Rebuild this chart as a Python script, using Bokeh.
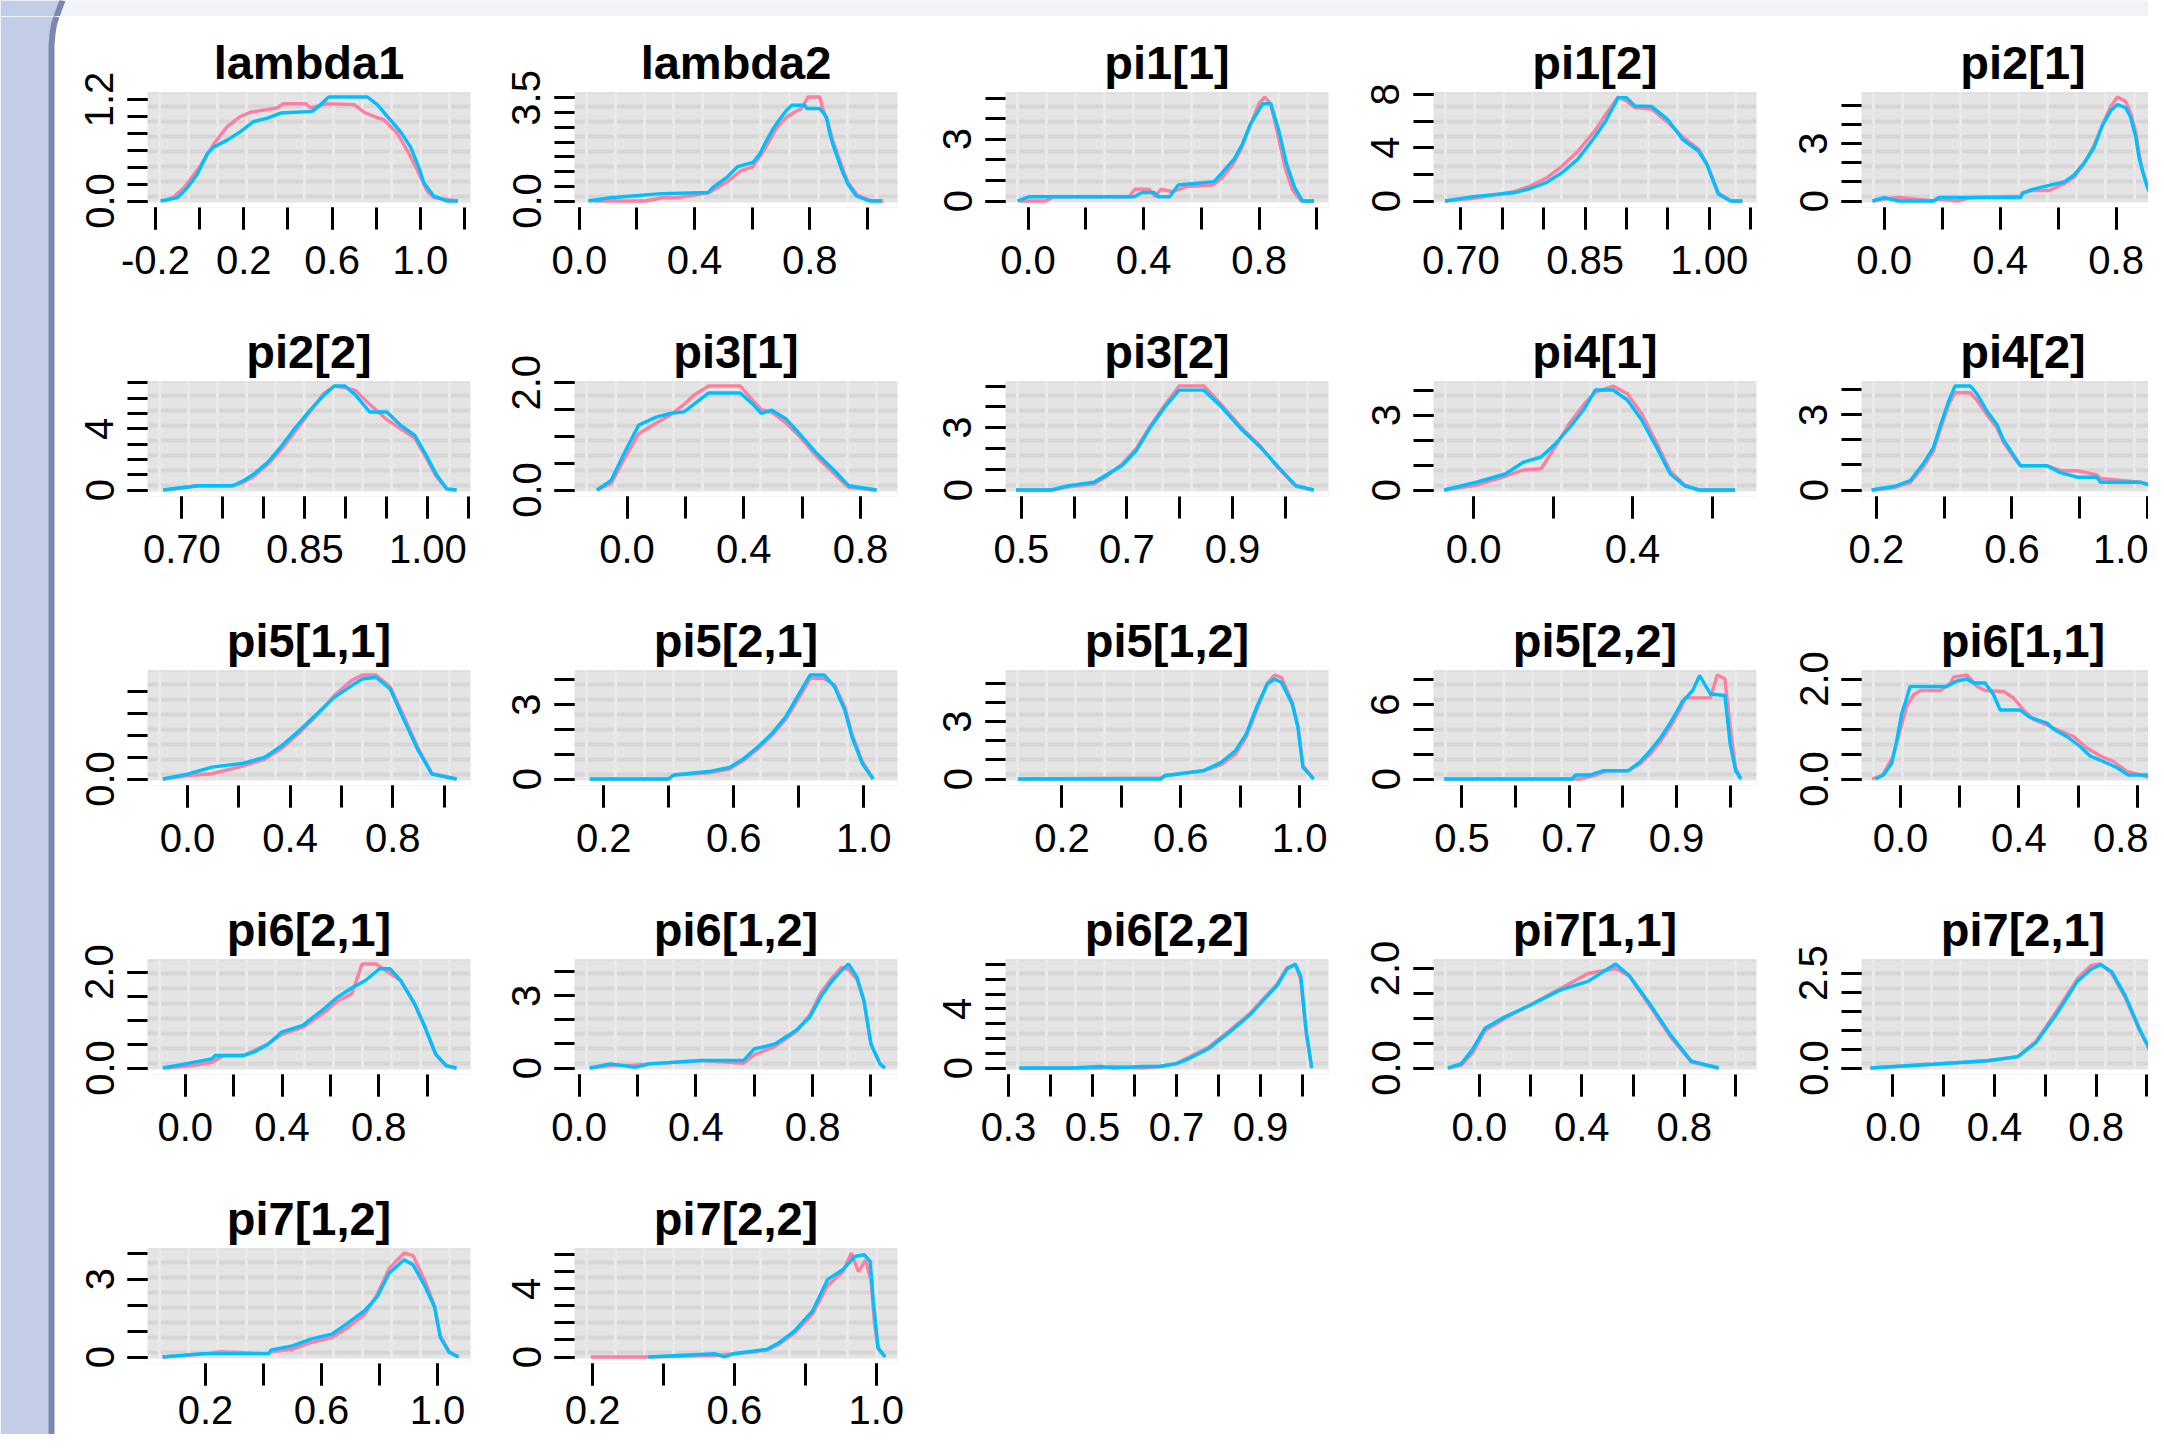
import math
from bokeh.plotting import figure
from bokeh.models import Range1d, FixedTicker, BoxAnnotation
from bokeh.layouts import column, row
from bokeh.embed import file_html
from bokeh.resources import INLINE

# ------------------------------------------------------------------ data
# lambda1
lambda1_xb = [-0.177, -0.10, -0.055, -0.01, 0.035, 0.065, 0.125, 0.185, 0.245, 0.307, 0.367, 0.51, 0.548, 0.585, 0.76, 0.805, 0.85, 0.91, 0.955, 0.993, 1.015, 1.06, 1.12, 1.17]
lambda1_yb = [0, 0.04, 0.16, 0.32, 0.56, 0.64, 0.72, 0.82, 0.94, 0.98, 1.04, 1.06, 1.14, 1.23, 1.23, 1.14, 1.0, 0.82, 0.64, 0.40, 0.22, 0.06, 0.0, 0.0]
lambda1_xa = [-0.16, -0.12, -0.07, 0.005, 0.065, 0.125, 0.185, 0.23, 0.35, 0.38, 0.48, 0.503, 0.57, 0.70, 0.745, 0.79, 0.835, 0.896, 0.94, 0.98, 1.03, 1.06, 1.17]
lambda1_ya = [0, 0.04, 0.16, 0.42, 0.68, 0.88, 1.0, 1.05, 1.10, 1.15, 1.15, 1.10, 1.15, 1.14, 1.05, 1.0, 0.96, 0.80, 0.60, 0.40, 0.12, 0.04, 0.0]
lambda1_xlim = (-0.236, 1.227)
lambda1_xticks = [-0.2, 0.0, 0.2, 0.4, 0.6, 0.8, 1.0, 1.2]
lambda1_xlabels = ["-0.2", "", "0.2", "", "0.6", "", "1.0", ""]
lambda1_yticks = [0.0, 0.2, 0.4, 0.6, 0.8, 1.0, 1.2]
lambda1_ylabels = ["0.0", "", "", "", "", "", "1.2"]

# lambda2
lambda2_xb = [0.031, 0.107, 0.286, 0.448, 0.464, 0.512, 0.55, 0.603, 0.627, 0.65, 0.673, 0.697, 0.72, 0.738, 0.783, 0.79, 0.835, 0.858, 0.87, 0.88, 0.898, 0.915, 0.933, 0.962, 1.008, 1.05]
lambda2_yb = [0, 0.11, 0.25, 0.29, 0.46, 0.80, 1.17, 1.31, 1.60, 2.05, 2.45, 2.79, 3.08, 3.25, 3.25, 3.14, 3.14, 2.85, 2.28, 1.94, 1.43, 0.97, 0.57, 0.17, 0.0, 0.0]
lambda2_xa = [0.05, 0.14, 0.23, 0.286, 0.34, 0.45, 0.47, 0.52, 0.56, 0.60, 0.63, 0.655, 0.68, 0.70, 0.72, 0.748, 0.772, 0.794, 0.835, 0.847, 0.865, 0.88, 0.90, 0.918, 0.935, 0.965, 1.01, 1.055]
lambda2_ya = [0.0, 0.0, 0.0, 0.11, 0.11, 0.29, 0.40, 0.70, 1.02, 1.15, 1.55, 1.95, 2.40, 2.65, 2.85, 3.02, 3.14, 3.53, 3.53, 3.08, 2.62, 2.05, 1.50, 1.0, 0.6, 0.2, 0.02, 0.0]
lambda2_xlim = (-0.017, 1.105)
lambda2_xticks = [0.0, 0.2, 0.4, 0.6, 0.8, 1.0]
lambda2_xlabels = ["0.0", "", "0.4", "", "0.8", ""]
lambda2_yticks = [0.0, 0.5, 1.0, 1.5, 2.0, 2.5, 3.0, 3.5]
lambda2_ylabels = ["0.0", "", "", "", "", "", "", "3.5"]

# pi1[1]
pi1_1_xb = [-0.036, 0.005, 0.367, 0.394, 0.436, 0.45, 0.49, 0.52, 0.644, 0.672, 0.714, 0.742, 0.77, 0.812, 0.84, 0.868, 0.895, 0.923, 0.95, 0.99]
pi1_1_yb = [0, 0.21, 0.21, 0.41, 0.41, 0.21, 0.21, 0.78, 0.94, 1.38, 2.04, 2.77, 3.75, 4.72, 4.72, 3.42, 1.79, 0.65, 0.0, 0.0]
pi1_1_xa = [-0.03, 0.02, 0.06, 0.09, 0.12, 0.35, 0.37, 0.42, 0.44, 0.46, 0.50, 0.55, 0.64, 0.67, 0.71, 0.74, 0.77, 0.80, 0.82, 0.84, 0.865, 0.89, 0.915, 0.945, 0.99]
pi1_1_ya = [0, 0, 0.0, 0.21, 0.21, 0.21, 0.57, 0.57, 0.21, 0.57, 0.45, 0.70, 0.78, 1.10, 1.80, 2.60, 3.70, 4.75, 5.05, 4.70, 3.20, 1.60, 0.55, 0.0, 0.0]
pi1_1_xlim = (-0.078, 1.04)
pi1_1_xticks = [0.0, 0.2, 0.4, 0.6, 0.8, 1.0]
pi1_1_xlabels = ["0.0", "", "0.4", "", "0.8", ""]
pi1_1_yticks = [0, 1, 2, 3, 4, 5]
pi1_1_ylabels = ["0", "", "", "3", "", ""]

# pi1[2]
pi1_2_x = [0.681, 0.715, 0.764, 0.783, 0.803, 0.822, 0.841, 0.861, 0.875, 0.89, 0.90, 0.91, 0.93, 0.95, 0.968, 0.987, 0.997, 1.011, 1.026, 1.04]
pi1_2_yb = [0, 0.33, 0.62, 0.92, 1.38, 2.12, 3.12, 4.75, 6.0, 7.75, 7.75, 7.12, 7.1, 6.1, 4.6, 3.75, 2.75, 0.5, 0.0, 0.0]
pi1_2_ya = [0, 0.2, 0.7, 1.1, 1.7, 2.6, 3.7, 5.2, 6.5, 7.8, 7.5, 7.0, 6.9, 5.9, 4.8, 3.9, 2.8, 0.6, 0.0, 0.0]
pi1_2_xlim = (0.667, 1.057)
pi1_2_xticks = [0.70, 0.75, 0.80, 0.85, 0.90, 0.95, 1.00, 1.05]
pi1_2_xlabels = ["0.70", "", "", "0.85", "", "", "1.00", ""]
pi1_2_yticks = [0, 2, 4, 6, 8]
pi1_2_ylabels = ["0", "", "4", "", "8"]

# pi2[1]
pi2_1_x = [-0.04, 0.0, 0.05, 0.17, 0.19, 0.253, 0.30, 0.471, 0.477, 0.512, 0.569, 0.621, 0.655, 0.69, 0.724, 0.753, 0.782, 0.805, 0.833, 0.85, 0.868, 0.879, 0.891, 0.908, 0.925, 0.948, 0.99]
pi2_1_yb = [0, 0.18, 0.0, 0.0, 0.18, 0.18, 0.18, 0.18, 0.39, 0.61, 0.82, 1.0, 1.35, 2.0, 2.8, 3.95, 4.74, 5.05, 4.88, 4.39, 3.33, 2.28, 1.58, 0.70, 0.18, 0.0, 0.0]
pi2_1_ya = [0, 0.1, 0.18, 0.0, 0.1, 0.0, 0.18, 0.25, 0.45, 0.55, 0.55, 0.90, 1.25, 1.95, 2.9, 4.0, 4.95, 5.44, 5.2, 4.6, 3.6, 2.5, 1.6, 0.8, 0.25, 0.0, 0.0]
pi2_1_xlim = (-0.078, 1.036)
pi2_1_xticks = [0.0, 0.2, 0.4, 0.6, 0.8, 1.0]
pi2_1_xlabels = ["0.0", "", "0.4", "", "0.8", ""]
pi2_1_yticks = [0, 1, 2, 3, 4, 5]
pi2_1_ylabels = ["0", "", "", "3", "", ""]

# pi2[2]
pi2_2_x = [0.677, 0.72, 0.762, 0.775, 0.788, 0.805, 0.822, 0.839, 0.856, 0.873, 0.886, 0.899, 0.912, 0.929, 0.95, 0.967, 0.984, 0.997, 1.01, 1.023, 1.035]
pi2_2_yb = [0, 0.28, 0.28, 0.61, 1.05, 1.82, 2.91, 4.11, 5.2, 6.19, 6.8, 6.8, 6.19, 5.1, 5.1, 4.22, 3.57, 2.36, 1.05, 0.07, 0.0]
pi2_2_ya = [0, 0.28, 0.28, 0.5, 0.9, 1.7, 2.7, 3.9, 5.1, 6.3, 6.8, 6.7, 6.5, 5.6, 4.6, 4.0, 3.4, 2.2, 0.9, 0.07, 0.0]
pi2_2_xlim = (0.658, 1.052)
pi2_2_xticks = [0.70, 0.75, 0.80, 0.85, 0.90, 0.95, 1.00, 1.05]
pi2_2_xlabels = ["0.70", "", "", "0.85", "", "", "1.00", ""]
pi2_2_yticks = [0, 1, 2, 3, 4, 5, 6, 7]
pi2_2_ylabels = ["0", "", "", "", "4", "", "", ""]

# pi3[1]
pi3_1_x = [-0.103, -0.055, -0.0075, 0.04, 0.10, 0.148, 0.196, 0.232, 0.28, 0.388, 0.435, 0.46, 0.496, 0.544, 0.591, 0.651, 0.711, 0.759, 0.855]
pi3_1_yb = [0, 0.175, 0.71, 1.21, 1.36, 1.43, 1.46, 1.61, 1.81, 1.81, 1.58, 1.43, 1.49, 1.33, 1.05, 0.675, 0.36, 0.08, 0.0]
pi3_1_ya = [0, 0.12, 0.6, 1.05, 1.25, 1.40, 1.60, 1.78, 1.94, 1.94, 1.65, 1.50, 1.45, 1.25, 1.0, 0.62, 0.3, 0.05, 0.0]
pi3_1_xlim = (-0.18, 0.927)
pi3_1_xticks = [0.0, 0.2, 0.4, 0.6, 0.8]
pi3_1_xlabels = ["0.0", "", "0.4", "", "0.8"]
pi3_1_yticks = [0.0, 0.5, 1.0, 1.5, 2.0]
pi3_1_ylabels = ["0.0", "", "", "", "2.0"]

# pi3[2]
pi3_2_x = [0.49, 0.557, 0.59, 0.638, 0.664, 0.691, 0.718, 0.745, 0.772, 0.799, 0.846, 0.879, 0.919, 0.953, 0.987, 1.02, 1.054]
pi3_2_yb = [0, 0.0, 0.21, 0.37, 0.77, 1.18, 1.9, 3.03, 4.0, 4.8, 4.8, 4.0, 2.87, 2.06, 1.1, 0.21, 0.0]
pi3_2_ya = [0, 0.0, 0.15, 0.3, 0.7, 1.25, 2.0, 3.1, 4.1, 5.0, 5.0, 4.1, 2.95, 2.1, 1.05, 0.18, 0.0]
pi3_2_xlim = (0.47, 1.082)
pi3_2_xticks = [0.5, 0.6, 0.7, 0.8, 0.9, 1.0]
pi3_2_xlabels = ["0.5", "", "0.7", "", "0.9", ""]
pi3_2_yticks = [0, 1, 2, 3, 4, 5]
pi3_2_ylabels = ["0", "", "", "3", "", ""]

# pi4[1]
pi4_1_x = [-0.074, 0.007, 0.08, 0.125, 0.17, 0.206, 0.243, 0.279, 0.306, 0.351, 0.387, 0.423, 0.46, 0.495, 0.531, 0.568, 0.658]
pi4_1_yb = [0, 0.31, 0.64, 1.11, 1.32, 1.85, 2.52, 3.26, 4.0, 4.0, 3.6, 2.8, 1.72, 0.64, 0.17, 0.0, 0.0]
pi4_1_ya = [0, 0.2, 0.55, 0.8, 0.85, 1.75, 2.7, 3.45, 3.9, 4.16, 3.85, 3.05, 1.9, 0.75, 0.2, 0.0, 0.0]
pi4_1_xlim = (-0.101, 0.712)
pi4_1_xticks = [0.0, 0.2, 0.4, 0.6]
pi4_1_xlabels = ["0.0", "", "0.4", ""]
pi4_1_yticks = [0, 1, 2, 3, 4]
pi4_1_ylabels = ["0", "", "", "3", ""]

# pi4[2]
pi4_2_x = [0.186, 0.255, 0.30, 0.34, 0.368, 0.388, 0.413, 0.432, 0.477, 0.496, 0.526, 0.555, 0.575, 0.605, 0.625, 0.703, 0.743, 0.792, 0.851, 0.861, 0.979, 1.018, 1.05]
pi4_2_yb = [0, 0.15, 0.38, 1.08, 1.69, 2.54, 3.54, 4.15, 4.15, 3.85, 3.15, 2.62, 2.0, 1.38, 0.97, 0.97, 0.69, 0.51, 0.51, 0.31, 0.31, 0.15, 0.08]
pi4_2_ya = [0, 0.1, 0.3, 0.95, 1.55, 2.4, 3.4, 3.88, 3.88, 3.6, 3.0, 2.5, 1.9, 1.3, 0.97, 0.97, 0.77, 0.77, 0.6, 0.46, 0.31, 0.15, 0.08]
pi4_2_xlim = (0.156, 1.109)
pi4_2_xticks = [0.2, 0.4, 0.6, 0.8, 1.0]
pi4_2_xlabels = ["0.2", "", "0.6", "", "1.0"]
pi4_2_yticks = [0, 1, 2, 3, 4]
pi4_2_ylabels = ["0", "", "", "3", ""]

# pi5[1,1]
pi5_11_x = [-0.096, 0.0, 0.095, 0.218, 0.30, 0.368, 0.435, 0.504, 0.572, 0.64, 0.681, 0.735, 0.79, 0.845, 0.899, 0.953, 1.049]
pi5_11_yb = [0, 0.11, 0.27, 0.36, 0.49, 0.76, 1.1, 1.48, 1.86, 2.13, 2.28, 2.32, 2.05, 1.33, 0.65, 0.11, 0.0]
pi5_11_ya = [0, 0.08, 0.12, 0.3, 0.45, 0.7, 1.05, 1.45, 1.9, 2.25, 2.37, 2.37, 2.1, 1.4, 0.7, 0.12, 0.0]
pi5_11_xlim = (-0.156, 1.103)
pi5_11_xticks = [0.0, 0.2, 0.4, 0.6, 0.8, 1.0]
pi5_11_xlabels = ["0.0", "", "0.4", "", "0.8", ""]
pi5_11_yticks = [0.0, 0.5, 1.0, 1.5, 2.0]
pi5_11_ylabels = ["0.0", "", "", "", ""]

# pi5[2,1]
pi5_21_x = [0.157, 0.40, 0.415, 0.523, 0.587, 0.63, 0.673, 0.717, 0.76, 0.802, 0.835, 0.878, 0.91, 0.942, 0.964, 0.996, 1.029]
pi5_21_yb = [0, 0, 0.16, 0.3, 0.47, 0.81, 1.28, 1.82, 2.5, 3.45, 4.19, 4.19, 3.72, 2.77, 1.69, 0.61, 0.0]
pi5_21_ya = [0, 0, 0.16, 0.25, 0.4, 0.75, 1.2, 1.75, 2.4, 3.3, 4.05, 4.05, 3.8, 2.9, 1.8, 0.7, 0.0]
pi5_21_xlim = (0.11, 1.104)
pi5_21_xticks = [0.2, 0.4, 0.6, 0.8, 1.0]
pi5_21_xlabels = ["0.2", "", "0.6", "", "1.0"]
pi5_21_yticks = [0, 1, 2, 3, 4]
pi5_21_ylabels = ["0", "", "", "3", ""]

# pi5[1,2]
pi5_12_x = [0.052, 0.533, 0.545, 0.677, 0.736, 0.784, 0.82, 0.855, 0.891, 0.915, 0.939, 0.975, 0.994, 1.011, 1.047]
pi5_12_yb = [0, 0, 0.17, 0.44, 0.87, 1.48, 2.35, 3.75, 4.97, 5.23, 5.05, 3.92, 2.7, 0.61, 0.0]
pi5_12_ya = [0, 0.05, 0.17, 0.44, 0.75, 1.3, 2.2, 3.6, 5.0, 5.44, 5.3, 4.0, 2.8, 0.7, 0.0]
pi5_12_xlim = (0.01, 1.097)
pi5_12_xticks = [0.2, 0.4, 0.6, 0.8, 1.0]
pi5_12_xlabels = ["0.2", "", "0.6", "", "1.0"]
pi5_12_yticks = [0, 1, 2, 3, 4, 5]
pi5_12_ylabels = ["0", "", "", "3", "", ""]

# pi5[2,2]
pi5_22_xb = [0.467, 0.705, 0.712, 0.738, 0.764, 0.81, 0.831, 0.851, 0.871, 0.891, 0.91, 0.93, 0.943, 0.963, 0.99, 1.0, 1.01, 1.02]
pi5_22_yb = [0, 0, 0.32, 0.32, 0.67, 0.67, 1.35, 2.29, 3.37, 4.72, 6.2, 7.14, 8.36, 6.87, 6.74, 2.83, 0.67, 0.0]
pi5_22_xa = [0.467, 0.70, 0.72, 0.75, 0.77, 0.81, 0.831, 0.851, 0.871, 0.891, 0.91, 0.916, 0.963, 0.976, 0.99, 1.0, 1.01, 1.02]
pi5_22_ya = [0, 0, 0.0, 0.32, 0.67, 0.67, 1.2, 2.0, 3.1, 4.4, 5.9, 6.55, 6.55, 8.4, 8.1, 4.2, 0.9, 0.0]
pi5_22_xlim = (0.447, 1.049)
pi5_22_xticks = [0.5, 0.6, 0.7, 0.8, 0.9, 1.0]
pi5_22_xlabels = ["0.5", "", "0.7", "", "0.9", ""]
pi5_22_yticks = [0, 2, 4, 6, 8]
pi5_22_ylabels = ["0", "", "", "6", ""]

# pi6[1,1]
pi6_11_xb = [-0.085, -0.058, -0.03, -0.013, 0.004, 0.021, 0.032, 0.156, 0.19, 0.224, 0.247, 0.286, 0.314, 0.337, 0.404, 0.438, 0.495, 0.517, 0.562, 0.607, 0.641, 0.686, 0.731, 0.77, 0.855, 0.891]
pi6_11_yb = [0, 0.08, 0.31, 0.77, 1.31, 1.62, 1.85, 1.85, 1.96, 2.0, 1.92, 1.92, 1.69, 1.38, 1.38, 1.23, 1.12, 1.0, 0.85, 0.65, 0.46, 0.35, 0.23, 0.08, 0.08, 0.0]
pi6_11_xa = [-0.096, -0.06, -0.025, 0.0, 0.021, 0.045, 0.068, 0.135, 0.169, 0.18, 0.224, 0.259, 0.286, 0.349, 0.382, 0.416, 0.45, 0.495, 0.54, 0.585, 0.63, 0.676, 0.72, 0.766, 0.811, 0.855]
pi6_11_ya = [0, 0.08, 0.46, 1.0, 1.46, 1.69, 1.77, 1.77, 1.92, 2.04, 2.08, 1.85, 1.77, 1.75, 1.62, 1.38, 1.19, 1.08, 0.96, 0.85, 0.62, 0.46, 0.35, 0.15, 0.08, 0.0]
pi6_11_xlim = (-0.132, 0.96)
pi6_11_xticks = [0.0, 0.2, 0.4, 0.6, 0.8]
pi6_11_xlabels = ["0.0", "", "0.4", "", "0.8"]
pi6_11_yticks = [0.0, 0.5, 1.0, 1.5, 2.0]
pi6_11_ylabels = ["0.0", "", "", "", "2.0"]

# pi6[2,1]
pi6_21_xb = [-0.093, -0.006, 0.11, 0.124, 0.24, 0.283, 0.341, 0.399, 0.486, 0.572, 0.63, 0.688, 0.746, 0.803, 0.847, 0.89, 0.948, 0.991, 1.035, 1.078, 1.121]
pi6_21_yb = [0, 0.08, 0.19, 0.26, 0.26, 0.33, 0.49, 0.75, 0.89, 1.23, 1.48, 1.67, 1.83, 2.07, 2.07, 1.83, 1.34, 0.85, 0.29, 0.05, 0.0]
pi6_21_xa = [-0.08, 0.03, 0.11, 0.16, 0.24, 0.283, 0.341, 0.399, 0.486, 0.572, 0.63, 0.688, 0.731, 0.789, 0.818, 0.89, 0.948, 0.991, 1.035, 1.078, 1.121]
pi6_21_ya = [0, 0.05, 0.12, 0.26, 0.26, 0.36, 0.5, 0.7, 0.85, 1.15, 1.4, 1.55, 2.17, 2.17, 2.07, 1.83, 1.34, 0.85, 0.29, 0.05, 0.0]
pi6_21_xlim = (-0.156, 1.179)
pi6_21_xticks = [0.0, 0.2, 0.4, 0.6, 0.8, 1.0]
pi6_21_xlabels = ["0.0", "", "0.4", "", "0.8", ""]
pi6_21_yticks = [0.0, 0.5, 1.0, 1.5, 2.0]
pi6_21_ylabels = ["0.0", "", "", "", "2.0"]

# pi6[1,2]
pi6_12_x = [0.036, 0.108, 0.192, 0.24, 0.42, 0.563, 0.60, 0.671, 0.743, 0.79, 0.827, 0.863, 0.899, 0.923, 0.952, 0.976, 1.0, 1.031, 1.048]
pi6_12_yb = [0, 0.17, 0.03, 0.17, 0.31, 0.31, 0.79, 1.0, 1.56, 2.11, 2.94, 3.57, 4.06, 4.33, 3.78, 2.8, 1.0, 0.17, 0.0]
pi6_12_ya = [0, 0.1, 0.12, 0.17, 0.31, 0.2, 0.55, 0.9, 1.5, 2.2, 3.1, 3.7, 4.19, 4.1, 3.7, 2.8, 1.0, 0.17, 0.0]
pi6_12_xlim = (-0.016, 1.091)
pi6_12_xticks = [0.0, 0.2, 0.4, 0.6, 0.8, 1.0]
pi6_12_xlabels = ["0.0", "", "0.4", "", "0.8", ""]
pi6_12_yticks = [0, 1, 2, 3, 4]
pi6_12_ylabels = ["0", "", "", "3", ""]

# pi6[2,2]
pi6_22_x = [0.326, 0.45, 0.52, 0.55, 0.62, 0.66, 0.70, 0.727, 0.776, 0.825, 0.875, 0.907, 0.94, 0.963, 0.983, 0.996, 1.009, 1.022]
pi6_22_yb = [0, 0, 0.1, 0.0, 0.1, 0.1, 0.3, 0.6, 1.3, 2.4, 3.6, 4.6, 5.6, 6.7, 7.05, 6.2, 2.5, 0.0]
pi6_22_ya = [0, 0, 0.0, 0.1, 0.0, 0.1, 0.3, 0.7, 1.4, 2.5, 3.7, 4.7, 5.7, 6.8, 7.0, 6.0, 2.3, 0.0]
pi6_22_xlim = (0.293, 1.062)
pi6_22_xticks = [0.3, 0.4, 0.5, 0.6, 0.7, 0.8, 0.9, 1.0]
pi6_22_xlabels = ["0.3", "", "0.5", "", "0.7", "", "0.9", ""]
pi6_22_yticks = [0, 1, 2, 3, 4, 5, 6, 7]
pi6_22_ylabels = ["0", "", "", "", "4", "", "", ""]

# pi7[1,1]
pi7_11_x = [-0.123, -0.07, -0.027, 0.022, 0.10, 0.21, 0.317, 0.424, 0.532, 0.585, 0.665, 0.747, 0.827, 0.934]
pi7_11_yb = [0, 0.09, 0.37, 0.8, 1.03, 1.29, 1.57, 1.74, 2.09, 1.86, 1.29, 0.66, 0.14, 0.0]
pi7_11_ya = [0, 0.06, 0.3, 0.75, 1.0, 1.3, 1.6, 1.9, 2.0, 1.85, 1.25, 0.62, 0.12, 0.0]
pi7_11_xlim = (-0.179, 1.082)
pi7_11_xticks = [0.0, 0.2, 0.4, 0.6, 0.8, 1.0]
pi7_11_xlabels = ["0.0", "", "0.4", "", "0.8", ""]
pi7_11_yticks = [0.0, 0.5, 1.0, 1.5, 2.0]
pi7_11_ylabels = ["0.0", "", "", "", "2.0"]

# pi7[2,1]
pi7_21_x = [-0.089, 0.155, 0.372, 0.492, 0.563, 0.644, 0.726, 0.78, 0.818, 0.861, 0.915, 0.97, 1.025, 1.068]
pi7_21_yb = [0, 0.1, 0.19, 0.3, 0.67, 1.42, 2.28, 2.6, 2.72, 2.54, 1.9, 1.04, 0.3, 0.04]
pi7_21_ya = [0, 0.1, 0.19, 0.3, 0.7, 1.5, 2.35, 2.7, 2.74, 2.5, 1.85, 1.0, 0.3, 0.04]
pi7_21_xlim = (-0.124, 1.148)
pi7_21_xticks = [0.0, 0.2, 0.4, 0.6, 0.8, 1.0]
pi7_21_xlabels = ["0.0", "", "0.4", "", "0.8", ""]
pi7_21_yticks = [0.0, 0.5, 1.0, 1.5, 2.0, 2.5]
pi7_21_ylabels = ["0.0", "", "", "", "", "2.5"]

# pi7[1,2]
pi7_12_x = [0.052, 0.188, 0.25, 0.417, 0.427, 0.50, 0.563, 0.636, 0.687, 0.75, 0.792, 0.833, 0.885, 0.916, 0.958, 0.99, 1.01, 1.041, 1.073]
pi7_12_yb = [0, 0.13, 0.13, 0.13, 0.27, 0.43, 0.69, 0.88, 1.27, 1.79, 2.31, 3.22, 3.74, 3.55, 2.7, 1.92, 0.75, 0.17, 0.0]
pi7_12_ya = [0, 0.1, 0.2, 0.13, 0.2, 0.3, 0.55, 0.75, 1.1, 1.65, 2.4, 3.4, 4.0, 3.9, 2.9, 1.95, 0.8, 0.2, 0.0]
pi7_12_xlim = (0.0, 1.114)
pi7_12_xticks = [0.2, 0.4, 0.6, 0.8, 1.0]
pi7_12_xlabels = ["0.2", "", "0.6", "", "1.0"]
pi7_12_yticks = [0, 1, 2, 3, 4]
pi7_12_ylabels = ["0", "", "", "3", ""]

# pi7[2,2]
pi7_22_xb = [0.357, 0.546, 0.572, 0.597, 0.692, 0.726, 0.769, 0.82, 0.863, 0.906, 0.94, 0.966, 0.983, 0.992, 1.005, 1.025]
pi7_22_yb = [0, 0.19, 0.0, 0.19, 0.45, 0.84, 1.52, 2.69, 4.54, 5.13, 5.9, 6.0, 5.61, 3.27, 0.55, 0.0]
pi7_22_xa = [0.195, 0.35, 0.55, 0.60, 0.692, 0.726, 0.769, 0.82, 0.863, 0.906, 0.93, 0.95, 0.97, 0.985, 0.995, 1.005, 1.025]
pi7_22_ya = [0, 0, 0.1, 0.19, 0.4, 0.75, 1.4, 2.5, 4.2, 5.0, 6.1, 5.0, 5.7, 4.5, 2.0, 0.5, 0.0]
pi7_22_xlim = (0.149, 1.06)
pi7_22_xticks = [0.2, 0.4, 0.6, 0.8, 1.0]
pi7_22_xlabels = ["0.2", "", "0.6", "", "1.0"]
pi7_22_yticks = [0, 1, 2, 3, 4, 5, 6]
pi7_22_ylabels = ["0", "", "", "", "4", "", ""]

# ------------------------------------------------------------------ style
PINK = "#ff7fa0"
BLUE = "#00bfff"
FONT = "Liberation Sans"
STRIP = "#c3cde8"
EDGE = "#7c89ae"
BAND = "#f2f3f8"
TITLE_PX = 47
# advance widths (em) of the bold title characters, to centre cut titles
BOLD_EM = {"p": 0.611, "i": 0.278, "[": 0.333, "]": 0.333, ",": 0.278,
           "l": 0.278, "a": 0.556, "m": 0.889, "b": 0.611, "d": 0.611}

PAGE_W, PAGE_H = 2148, 1434
BAND_H = 16
STRIP_W = 64
COL_W = [416, 429, 428, 429, 382]
COL_BL = [83, 94, 96, 96, 95]
FULL_FW = 323
ROW_H = 289
LAST_H = PAGE_H - BAND_H - 4 * ROW_H
TOP_B = 76
FRAME_H = 115   # 110 grey + 5 white gap above the ticks


def panel(title, xa, ya, xb, yb, xlim, xticks, xlabels, yticks, ylabels, col, last):
    W = COL_W[col]
    BL = COL_BL[col]
    H = LAST_H if last else ROW_H
    fw = min(FULL_FW, W - BL)
    BR = W - BL - fw
    M = max(max(ya), max(yb))
    k = 104.0 / M
    y0, y1 = -6.5 / k, M + 4.5 / k
    grey_bottom = -1.5 / k
    x0, x1 = xlim
    x1 = x0 + (x1 - x0) * fw / FULL_FW
    p = figure(width=W, height=H, x_range=Range1d(x0, x1), y_range=Range1d(y0, y1),
               output_backend="svg", toolbar_location=None, title=title,
               min_border_left=BL, min_border_right=BR, min_border_top=TOP_B,
               min_border_bottom=H - TOP_B - FRAME_H,
               background_fill_color="#e4e4e4", border_fill_color="white",
               outline_line_color=None)
    p.title.text_font = FONT
    p.title.text_font_size = "%dpx" % TITLE_PX
    p.title.text_font_style = "bold"
    p.title.text_color = "black"
    p.title.standoff = 7
    if fw < FULL_FW:
        # the panel is cut by the window edge: centre over the full-width panel
        tw = sum(BOLD_EM.get(ch, 0.556) for ch in title) * TITLE_PX
        p.title.align = "left"
        p.title.offset = (FULL_FW - tw) / 2.0
    else:
        p.title.align = "center"

    # background texture: dark horizontal bands, light vertical gaps
    ppx = (x1 - x0) / fw
    p.ygrid.ticker = FixedTicker(ticks=[grey_bottom + (6 + 15 * i) / k for i in range(8)])
    p.ygrid.grid_line_color = "#d6d6d6"
    p.ygrid.grid_line_width = 4
    p.xgrid.ticker = FixedTicker(ticks=[x0 + (12 + 29 * i) * ppx for i in range(12)])
    p.xgrid.grid_line_color = "#e9e9e9"
    p.xgrid.grid_line_width = 3
    xg, yg = p.xgrid[0], p.ygrid[0]
    others = [r for r in p.center if r is not xg and r is not yg]
    p.center = [yg, xg] + others
    p.add_layout(BoxAnnotation(top=grey_bottom, fill_color="white", fill_alpha=1.0,
                               line_color=None, level="underlay"))

    p.line(xa, ya, line_color=PINK, line_width=3.4)
    p.line(xb, yb, line_color=BLUE, line_width=3.4)

    xmaj = [t for t, l in zip(xticks, xlabels) if l]
    ymaj = [t for t, l in zip(yticks, ylabels) if l]
    p.xaxis.ticker = FixedTicker(ticks=xmaj, minor_ticks=xticks)
    p.xaxis.major_label_overrides = {t: l for t, l in zip(xticks, xlabels) if l}
    p.yaxis.ticker = FixedTicker(ticks=ymaj, minor_ticks=yticks)
    p.yaxis.major_label_overrides = {t: l for t, l in zip(yticks, ylabels) if l}
    for ax, tl in ((p.xaxis, 22), (p.yaxis, 20)):
        ax.axis_line_color = None
        ax.major_tick_in = 0
        ax.minor_tick_in = 0
        ax.major_tick_out = tl
        ax.minor_tick_out = tl
        ax.major_tick_line_width = 3
        ax.minor_tick_line_width = 3
        ax.major_tick_line_color = "black"
        ax.minor_tick_line_color = "black"
        ax.major_label_text_font = FONT
        ax.major_label_text_font_size = "40px"
        ax.major_label_text_color = "black"
    p.xaxis.major_label_standoff = 10 if last else 16
    p.yaxis.major_label_standoff = 14
    p.yaxis.major_label_orientation = "parallel"
    return p


specs = [
    ["lambda1", lambda1_xa, lambda1_ya, lambda1_xb, lambda1_yb, lambda1_xlim, lambda1_xticks, lambda1_xlabels, lambda1_yticks, lambda1_ylabels],
    ["lambda2", lambda2_xa, lambda2_ya, lambda2_xb, lambda2_yb, lambda2_xlim, lambda2_xticks, lambda2_xlabels, lambda2_yticks, lambda2_ylabels],
    ["pi1[1]", pi1_1_xa, pi1_1_ya, pi1_1_xb, pi1_1_yb, pi1_1_xlim, pi1_1_xticks, pi1_1_xlabels, pi1_1_yticks, pi1_1_ylabels],
    ["pi1[2]", pi1_2_x, pi1_2_ya, pi1_2_x, pi1_2_yb, pi1_2_xlim, pi1_2_xticks, pi1_2_xlabels, pi1_2_yticks, pi1_2_ylabels],
    ["pi2[1]", pi2_1_x, pi2_1_ya, pi2_1_x, pi2_1_yb, pi2_1_xlim, pi2_1_xticks, pi2_1_xlabels, pi2_1_yticks, pi2_1_ylabels],
    ["pi2[2]", pi2_2_x, pi2_2_ya, pi2_2_x, pi2_2_yb, pi2_2_xlim, pi2_2_xticks, pi2_2_xlabels, pi2_2_yticks, pi2_2_ylabels],
    ["pi3[1]", pi3_1_x, pi3_1_ya, pi3_1_x, pi3_1_yb, pi3_1_xlim, pi3_1_xticks, pi3_1_xlabels, pi3_1_yticks, pi3_1_ylabels],
    ["pi3[2]", pi3_2_x, pi3_2_ya, pi3_2_x, pi3_2_yb, pi3_2_xlim, pi3_2_xticks, pi3_2_xlabels, pi3_2_yticks, pi3_2_ylabels],
    ["pi4[1]", pi4_1_x, pi4_1_ya, pi4_1_x, pi4_1_yb, pi4_1_xlim, pi4_1_xticks, pi4_1_xlabels, pi4_1_yticks, pi4_1_ylabels],
    ["pi4[2]", pi4_2_x, pi4_2_ya, pi4_2_x, pi4_2_yb, pi4_2_xlim, pi4_2_xticks, pi4_2_xlabels, pi4_2_yticks, pi4_2_ylabels],
    ["pi5[1,1]", pi5_11_x, pi5_11_ya, pi5_11_x, pi5_11_yb, pi5_11_xlim, pi5_11_xticks, pi5_11_xlabels, pi5_11_yticks, pi5_11_ylabels],
    ["pi5[2,1]", pi5_21_x, pi5_21_ya, pi5_21_x, pi5_21_yb, pi5_21_xlim, pi5_21_xticks, pi5_21_xlabels, pi5_21_yticks, pi5_21_ylabels],
    ["pi5[1,2]", pi5_12_x, pi5_12_ya, pi5_12_x, pi5_12_yb, pi5_12_xlim, pi5_12_xticks, pi5_12_xlabels, pi5_12_yticks, pi5_12_ylabels],
    ["pi5[2,2]", pi5_22_xa, pi5_22_ya, pi5_22_xb, pi5_22_yb, pi5_22_xlim, pi5_22_xticks, pi5_22_xlabels, pi5_22_yticks, pi5_22_ylabels],
    ["pi6[1,1]", pi6_11_xa, pi6_11_ya, pi6_11_xb, pi6_11_yb, pi6_11_xlim, pi6_11_xticks, pi6_11_xlabels, pi6_11_yticks, pi6_11_ylabels],
    ["pi6[2,1]", pi6_21_xa, pi6_21_ya, pi6_21_xb, pi6_21_yb, pi6_21_xlim, pi6_21_xticks, pi6_21_xlabels, pi6_21_yticks, pi6_21_ylabels],
    ["pi6[1,2]", pi6_12_x, pi6_12_ya, pi6_12_x, pi6_12_yb, pi6_12_xlim, pi6_12_xticks, pi6_12_xlabels, pi6_12_yticks, pi6_12_ylabels],
    ["pi6[2,2]", pi6_22_x, pi6_22_ya, pi6_22_x, pi6_22_yb, pi6_22_xlim, pi6_22_xticks, pi6_22_xlabels, pi6_22_yticks, pi6_22_ylabels],
    ["pi7[1,1]", pi7_11_x, pi7_11_ya, pi7_11_x, pi7_11_yb, pi7_11_xlim, pi7_11_xticks, pi7_11_xlabels, pi7_11_yticks, pi7_11_ylabels],
    ["pi7[2,1]", pi7_21_x, pi7_21_ya, pi7_21_x, pi7_21_yb, pi7_21_xlim, pi7_21_xticks, pi7_21_xlabels, pi7_21_yticks, pi7_21_ylabels],
    ["pi7[1,2]", pi7_12_x, pi7_12_ya, pi7_12_x, pi7_12_yb, pi7_12_xlim, pi7_12_xticks, pi7_12_xlabels, pi7_12_yticks, pi7_12_ylabels],
    ["pi7[2,2]", pi7_22_xa, pi7_22_ya, pi7_22_xb, pi7_22_yb, pi7_22_xlim, pi7_22_xticks, pi7_22_xlabels, pi7_22_yticks, pi7_22_ylabels],
]

rows = []
for r in range(5):
    figs = []
    for c in range(5):
        i = r * 5 + c
        if i < len(specs):
            figs.append(panel(*specs[i], col=c, last=(r == 4)))
    rows.append(row(*figs))

grid = column(*rows)

# window decoration: left frame strip with rounded corner, and top band
edge_x = [62, 59, 56, 53.5, 52, 51, 51]
edge_y = [0, 8, 16, 24, 33, 45, PAGE_H]

band = figure(width=PAGE_W, height=BAND_H, x_range=Range1d(0, PAGE_W), y_range=Range1d(BAND_H, 0),
              output_backend="svg", toolbar_location=None, min_border=0,
              x_axis_location=None, y_axis_location=None,
              background_fill_color=BAND, border_fill_color=BAND, outline_line_color=None)
band.grid.visible = False
band.patch(x=[0] + edge_x[:3] + [0], y=[0] + edge_y[:3] + [BAND_H], color=STRIP, line_color=None)
band.line(x=edge_x[:3], y=edge_y[:3], line_color=EDGE, line_width=6)

strip = figure(width=STRIP_W, height=PAGE_H - BAND_H, x_range=Range1d(0, STRIP_W),
               y_range=Range1d(PAGE_H, BAND_H),
               output_backend="svg", toolbar_location=None, min_border=0,
               x_axis_location=None, y_axis_location=None,
               background_fill_color="white", border_fill_color="white", outline_line_color=None)
strip.grid.visible = False
strip.patch(x=[0] + edge_x[2:] + [0], y=[BAND_H] + edge_y[2:] + [PAGE_H], color=STRIP, line_color=None)
strip.line(x=edge_x[2:], y=edge_y[2:], line_color=EDGE, line_width=6)

page = column(band, row(strip, grid))

open("out.html", "w").write(file_html(page, INLINE))
